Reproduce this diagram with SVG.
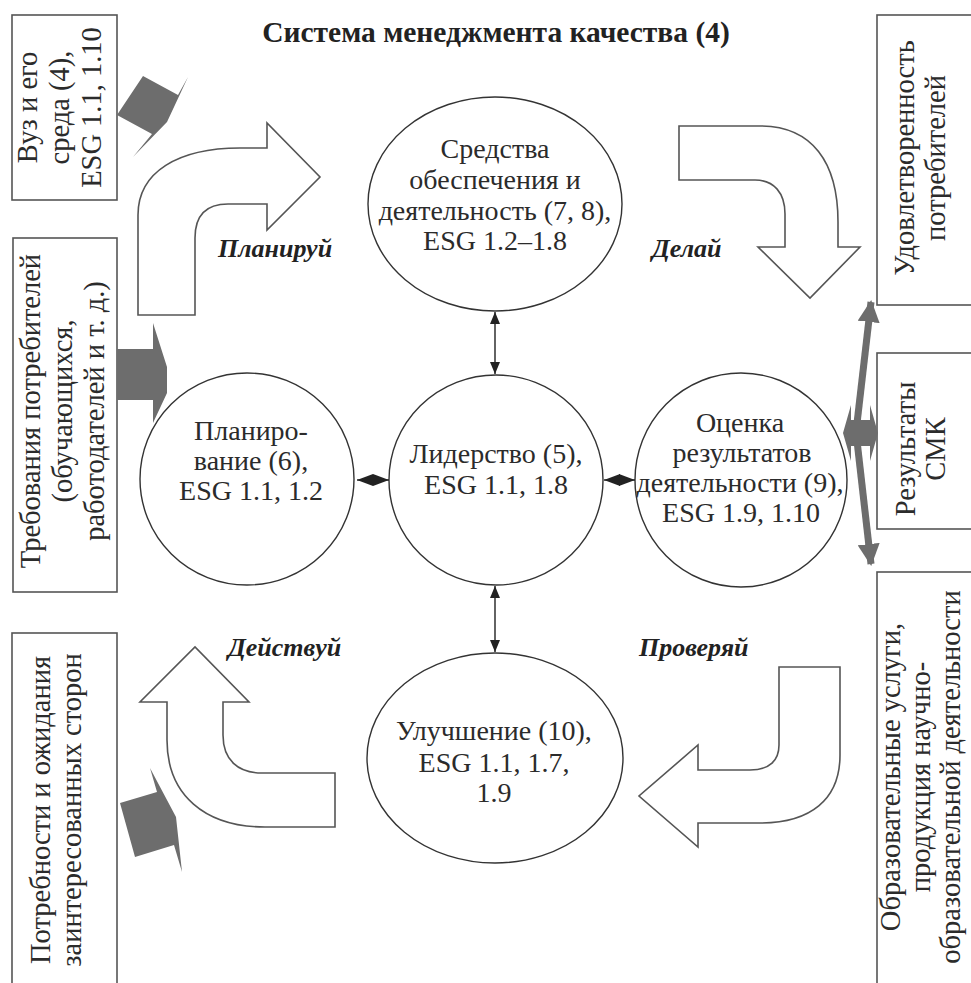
<svg xmlns="http://www.w3.org/2000/svg" width="971" height="983" viewBox="0 0 971 983">
<style>
  .bg{fill:#fff}
  .box{fill:#fff;stroke:#555;stroke-width:1.6}
  .circ{fill:#fff;stroke:#333;stroke-width:1.4}
  .t{font-family:"Liberation Serif","Times New Roman",serif;font-size:28px;fill:#2b2b2b;text-anchor:middle}
  .bt{font-family:"Liberation Serif","Times New Roman",serif;font-size:28.5px;fill:#2b2b2b;text-anchor:middle}
  .title{font-family:"Liberation Serif","Times New Roman",serif;font-size:29.5px;font-weight:bold;fill:#222;text-anchor:middle}
  .lbl{font-family:"Liberation Serif","Times New Roman",serif;font-size:26px;font-weight:bold;font-style:italic;fill:#222}
  .barrow{fill:#fff;stroke:#555;stroke-width:1.6;stroke-linejoin:miter}
  .gfill{fill:#6d6d6d}
  .conn{stroke:#222;stroke-width:1.4;fill:none}
  .gconn{stroke:#6d6d6d;stroke-width:7;fill:none}
</style>
<defs>
  <marker id="ah" viewBox="0 0 12 10" refX="12" refY="5" markerWidth="12" markerHeight="10" markerUnits="userSpaceOnUse" orient="auto-start-reverse">
    <path d="M0,0 L12,5 L0,10 Z" fill="#222"/>
  </marker>
  <marker id="dh" viewBox="0 0 16 12" refX="16" refY="6" markerWidth="16" markerHeight="12" markerUnits="userSpaceOnUse" orient="auto-start-reverse">
    <path d="M0,0 L16,6 L0,12 Z" fill="#222"/>
  </marker>
  <marker id="gh" viewBox="0 0 22 22" refX="20" refY="11" markerWidth="22" markerHeight="22" markerUnits="userSpaceOnUse" orient="auto">
    <path d="M0,0 L22,11 L0,22 Z" fill="#6d6d6d"/>
  </marker>
</defs>
<rect class="bg" x="0" y="0" width="971" height="983"/>

<text class="title" x="496" y="42">Система менеджмента качества (4)</text>

<!-- block arrows PDCA -->
<g id="arrow-plan">
  <path class="barrow" d="M138,315 L138,215 C138,172 178,148 240,148 L267,148 L267,123 L320,177 L267,230 L267,204 L228,204 Q195,204 195,238 L195,315 Z"/>
  <text class="lbl" x="218" y="257">Планируй</text>
</g>
<g id="arrow-do">
  <path class="barrow" d="M679,126 L760,126 C812,126 838,162 838,222 L838,247 L860,247 L810,298 L758,247 L785,247 L785,214 C785,193 774,180 755,180 L679,180 Z"/>
  <text class="lbl" x="652" y="257">Делай</text>
</g>
<g id="arrow-check">
  <path class="barrow" d="M779,667 L840,667 L840,755 C840,800 810,823 760,823 L698,823 L698,847 L639,796 L698,745 L698,770 L750,770 C770,770 779,760 779,745 Z"/>
  <text class="lbl" x="639" y="656">Проверяй</text>
</g>
<g id="arrow-act">
  <path class="barrow" d="M335,773 L262,773 C238,773 223,760 223,735 L223,702 L249,702 L195,647 L140,702 L167,702 L167,740 C167,795 205,827 265,827 L335,827 Z"/>
  <text class="lbl" x="228" y="656">Действуй</text>
</g>

<!-- side boxes -->
<g id="box-vuz">
  <rect class="box" x="12" y="15" width="105" height="185"/>
  <text class="bt" transform="translate(0,107.5) rotate(-90)"><tspan x="0" y="37">Вуз и его</tspan><tspan x="0" y="69">среда (4),</tspan><tspan x="0" y="101">ESG 1.1, 1.10</tspan></text>
</g>
<g id="box-req">
  <rect class="box" x="13" y="238" width="104" height="354"/>
  <text class="bt" transform="translate(0,411) rotate(-90)"><tspan x="0" y="40">Требования потребителей</tspan><tspan x="0" y="72">(обучающихся,</tspan><tspan x="0" y="104">работодателей и т. д.)</tspan></text>
</g>
<g id="box-needs">
  <rect class="box" x="12" y="633" width="105" height="360"/>
  <text class="bt" transform="translate(0,810) rotate(-90)"><tspan x="0" y="50">Потребности и ожидания</tspan><tspan x="0" y="81">заинтересованных сторон</tspan></text>
</g>
<g id="box-satisf">
  <rect class="box" x="877" y="15" width="110" height="290"/>
  <text class="bt" transform="translate(0,158) rotate(-90)"><tspan x="0" y="914">Удовлетворенность</tspan><tspan x="0" y="945">потребителей</tspan></text>
</g>
<g id="box-results">
  <rect class="box" x="877" y="353" width="110" height="176"/>
  <text class="bt" transform="translate(0,449) rotate(-90)"><tspan x="0" y="915">Результаты</tspan><tspan x="0" y="945">СМК</tspan></text>
</g>
<g id="box-services">
  <rect class="box" x="877" y="572" width="110" height="420"/>
  <text class="bt" transform="translate(0,777) rotate(-90)"><tspan x="0" y="900">Образовательные услуги,</tspan><tspan x="0" y="930">продукция научно-</tspan><tspan x="0" y="960">образовательной деятельности</tspan></text>
</g>

<!-- circles -->
<g id="node-resources">
  <ellipse class="circ" cx="495" cy="204" rx="127" ry="107"/>
  <text class="t"><tspan x="495" y="158">Средства</tspan><tspan x="495" y="189">обеспечения и</tspan><tspan x="495" y="220">деятельность (7, 8),</tspan><tspan x="495" y="250">ESG 1.2–1.8</tspan></text>
</g>
<g id="node-leadership">
  <ellipse class="circ" cx="496" cy="480" rx="107" ry="105"/>
  <text class="t"><tspan x="496" y="463">Лидерство (5),</tspan><tspan x="496" y="494">ESG 1.1, 1.8</tspan></text>
</g>
<g id="node-planning">
  <ellipse class="circ" cx="247" cy="479" rx="107" ry="106"/>
  <text class="t"><tspan x="251" y="440">Планиро-</tspan><tspan x="251" y="470">вание (6),</tspan><tspan x="251" y="500">ESG 1.1, 1.2</tspan></text>
</g>
<g id="node-evaluation">
  <ellipse class="circ" cx="741" cy="480" rx="106" ry="107"/>
  <text class="t"><tspan x="740" y="432">Оценка</tspan><tspan x="742" y="462">результатов</tspan><tspan x="740" y="492">деятельности (9),</tspan><tspan x="741" y="522">ESG 1.9, 1.10</tspan></text>
</g>
<g id="node-improvement">
  <ellipse class="circ" cx="495" cy="758" rx="128" ry="105"/>
  <text class="t"><tspan x="494" y="740">Улучшение (10),</tspan><tspan x="494" y="772">ESG 1.1, 1.7,</tspan><tspan x="494" y="802">1.9</tspan></text>
</g>

<!-- connectors -->
<g id="connectors">
  <line class="conn" x1="495" y1="312" x2="495" y2="374" marker-start="url(#ah)" marker-end="url(#ah)"/>
  <line class="conn" x1="495" y1="586" x2="495" y2="652" marker-start="url(#ah)" marker-end="url(#ah)"/>
  <line class="conn" x1="357" y1="480" x2="389" y2="480" marker-start="url(#dh)" marker-end="url(#dh)"/>
  <line class="conn" x1="604" y1="480" x2="635" y2="480" marker-start="url(#dh)" marker-end="url(#dh)"/>
  <polygon class="gfill" points="117,115 143,76 178,95 188,77 167,122 133,157 152,134"/>
  <polygon class="gfill" points="117,349 153,349 153,323 167,367 167,393 153,423 153,400 117,400"/>
  <polygon class="gfill" points="120,803 157,792 150,768 176,817 182,872 174,845 135,857"/>
  <line class="gconn" x1="856" y1="432" x2="871" y2="302" marker-end="url(#gh)"/>
  <line class="gconn" x1="856" y1="432" x2="871" y2="564" marker-end="url(#gh)"/>
  <polygon class="gfill" points="843,433 851,405 851,420 870,420 870,405 878,433 870,461 870,446 851,446 851,461"/>
</g>
</svg>
